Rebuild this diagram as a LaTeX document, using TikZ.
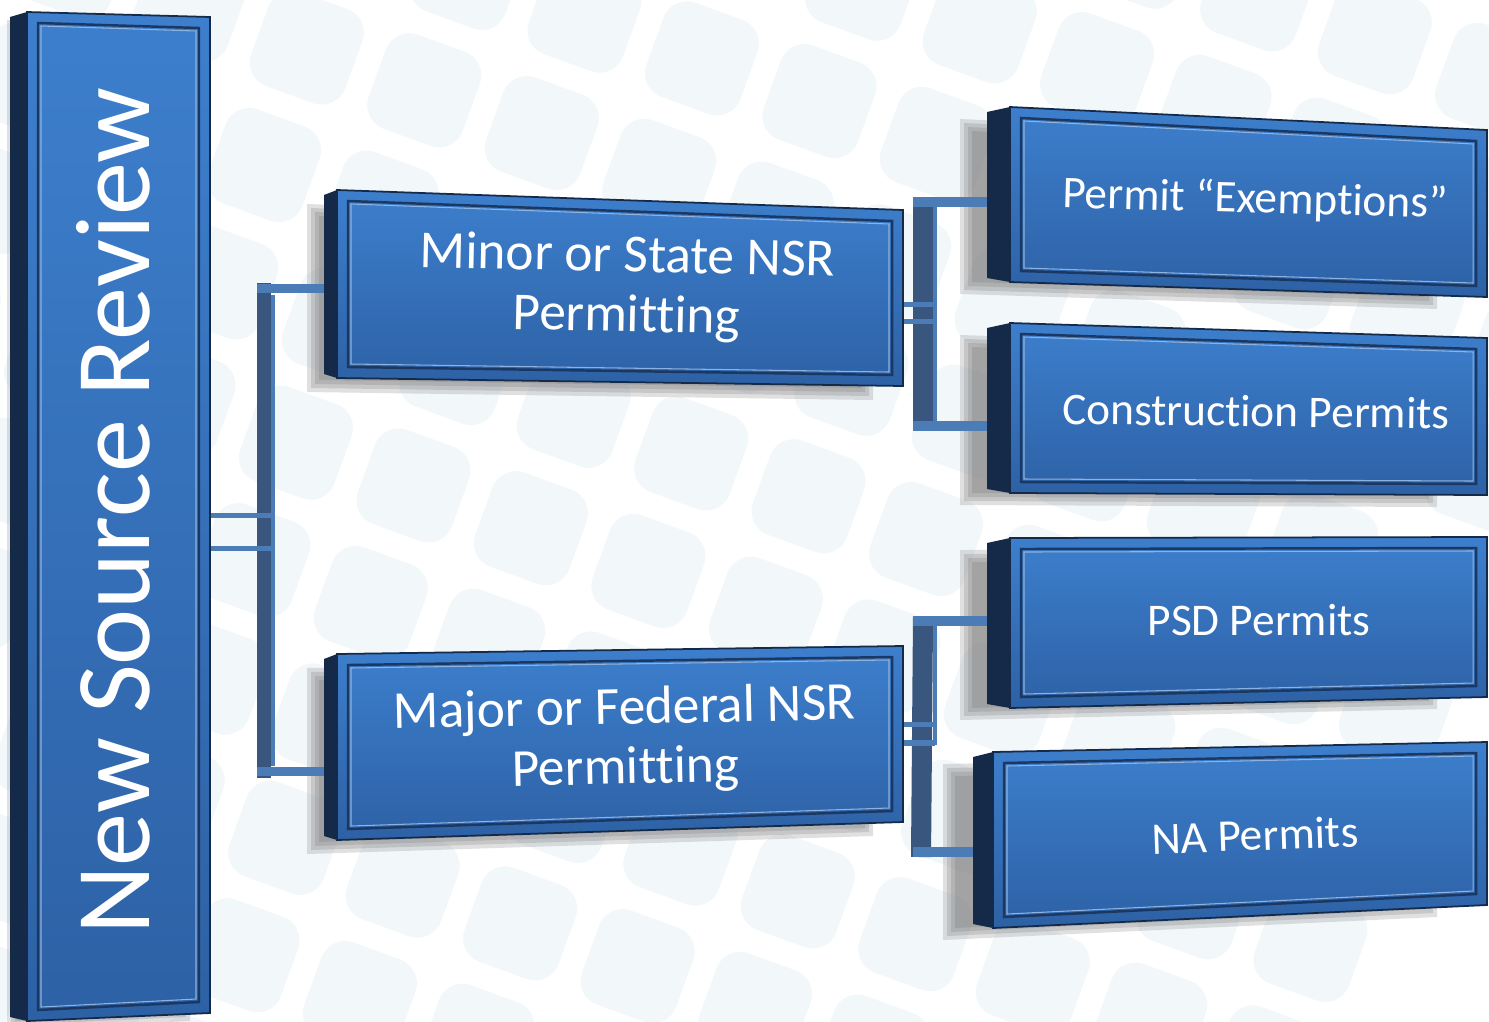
\documentclass[tikz,border=0pt]{standalone}
\usepackage{fontspec}
\setmainfont{Carlito}[Ligatures={TeX,CommonOff}, RawFeature={-liga;-clig;-dlig}]
\usetikzlibrary{calc, positioning}

\definecolor{faceTop}{RGB}{61,127,205}
\definecolor{faceBot}{RGB}{45,97,165}
\definecolor{sideNavy}{RGB}{21,42,72}
\definecolor{rimDark}{RGB}{27,56,98}
\definecolor{barLite}{RGB}{76,124,182}
\definecolor{barDark}{RGB}{57,86,126}
\definecolor{tileBlue}{RGB}{242,247,250}

% corners of one 3d panel
\newcommand{\setpanel}[5]{%
  \coordinate (#1-tl) at #2;
  \coordinate (#1-tr) at #3;
  \coordinate (#1-br) at #4;
  \coordinate (#1-bl) at #5;
}
\newcommand{\panelshadow}[3]{%
  \foreach \k in {0,4,8,12} {
    \fill[black!60, opacity=0.2]
      ($(#1-tl)+(#2+\k,#3+\k)$) -- ($(#1-tr)+(#2-\k,#3+\k)$) -- ($(#1-br)+(#2-\k,#3-\k)$) -- ($(#1-bl)+(#2+\k,#3-\k)$) -- cycle;
  }
}
\newcommand{\drawpanel}[2]{%
  \fill[sideNavy] ($(#1-tl)+(-#2,5)$) -- (#1-tl) -- (#1-bl) -- ($(#1-bl)+(-#2,-4)$) -- cycle;
  \shade[top color=faceTop, bottom color=faceBot] (#1-tl) -- (#1-tr) -- (#1-br) -- (#1-bl) -- cycle;
  \draw[sideNavy, line width=0.5pt] (#1-tl) -- (#1-tr) -- (#1-br) -- (#1-bl) -- cycle;
  \draw[rimDark, line width=0.7pt] ($(#1-tl)+(11,11)$) -- ($(#1-tr)+(-11,11)$) -- ($(#1-br)+(-11,-11)$) -- ($(#1-bl)+(11,-11)$) -- cycle;
  \draw[faceTop!60!white, line width=0.3pt] ($(#1-tl)+(14,14)$) -- ($(#1-tr)+(-14,14)$) -- ($(#1-br)+(-14,-14)$) -- ($(#1-bl)+(14,-14)$) -- cycle;
}

\begin{document}
\begin{tikzpicture}[x=0.01cm,y=-0.01cm,
  tile/.style={fill=tileBlue, rounded corners=0.25cm},
  trunkbar/.style={draw=barDark, line width=4pt},
  widebar/.style={draw=barDark, line width=5.7pt},
  edgebar/.style={draw=barLite, line width=1pt},
  armbar/.style={draw=barLite, line width=2.6pt},
  thinbar/.style={draw=barLite, line width=1.5pt},
  lvla/.style={text=white, font=\fontsize{30.2}{34}\selectfont},
  lvlb/.style={text=white, align=center, font=\fontsize{15.2}{17}\selectfont},
  lvlc/.style={text=white, font=\fontsize{12.9}{15}\selectfont}]

\useasboundingbox (0,0) rectangle (1489,1021);
\fill[white] (0,0) rectangle (1489,1021);

% background tiles
\begin{scope}
\clip (0,0) rectangle (1489,1021);
\begin{scope}[rotate around={-20:(744,510)}]
\foreach \i in {-4,...,13} {
  \foreach \j in {-4,...,11} {
    \fill[tile] (\i*125-250,\j*125-200) rectangle +(100,100);
  }
}
\end{scope}
\end{scope}

\setpanel{root}{(27,12)}{(210,17)}{(210,1013)}{(27,1021)}
\setpanel{minor}{(337,190)}{(903,210)}{(903,386)}{(337,378)}
\setpanel{major}{(337,654)}{(903,646)}{(903,822)}{(337,840)}
\setpanel{exempt}{(1010,107)}{(1487,130)}{(1487,297)}{(1010,282)}
\setpanel{constr}{(1010,323)}{(1487,338)}{(1487,495)}{(1010,493)}
\setpanel{psd}{(1010,538)}{(1487,537)}{(1487,697)}{(1010,708)}
\setpanel{na}{(993,752)}{(1487,742)}{(1487,905)}{(993,928)}

\panelshadow{root}{-20}{8}
\panelshadow{minor}{-30}{14}
\panelshadow{major}{-30}{14}
\foreach \p in {exempt,constr,psd,na} {
  \panelshadow{\p}{-50}{12}
}

% connector ends
\coordinate (root-e1) at (210,515.5);
\coordinate (root-e2) at (210,548.5);
\coordinate (ltrunk-n) at (264,283);
\coordinate (ltrunk-s) at (264,778);
\coordinate (ltrunk-a) at (264,515.5);
\coordinate (ltrunk-b) at (264,548.5);
\coordinate (minor-w) at (337,288.5);
\coordinate (major-w) at (337,771.5);
\coordinate (minor-e1) at (903,304.5);
\coordinate (minor-e2) at (903,321.5);
\coordinate (major-e1) at (903,724.5);
\coordinate (major-e2) at (903,743);
\coordinate (utrunk-n) at (923,198);
\coordinate (utrunk-s) at (923,430);
\coordinate (dtrunk-n) at (923,617);
\coordinate (dtrunk-s) at (921,857);
\coordinate (exempt-w) at (1010,202);
\coordinate (constr-w) at (1010,426);
\coordinate (psd-w) at (1010,621);
\coordinate (na-w) at (993,852);

% left tree
\draw[trunkbar] (ltrunk-n) -- (ltrunk-s);
\draw[edgebar] ($(ltrunk-n)+(9,12)$) -- ($(ltrunk-s)+(9,-12)$);
\draw[armbar] ($(ltrunk-n)+(-7,5.5)$) -- (minor-w);
\draw[armbar] ($(ltrunk-s)+(-7,-6.5)$) -- (major-w);
\draw[thinbar] (root-e1) -- ($(ltrunk-a)+(7,0)$);
\draw[thinbar] (root-e2) -- ($(ltrunk-b)+(7,0)$);

% upper right tree
\draw[widebar] (utrunk-n) -- (utrunk-s);
\draw[edgebar] ($(utrunk-n)+(12,8)$) -- ($(utrunk-s)+(12,-8)$);
\draw[armbar] ($(utrunk-n)+(-10,4)$) -- (exempt-w);
\draw[armbar] ($(utrunk-s)+(-10,-4)$) -- (constr-w);
\draw[thinbar] (minor-e1) -- ($(minor-e1 -| utrunk-n)+(12,0)$);
\draw[thinbar] (minor-e2) -- ($(minor-e2 -| utrunk-n)+(12,0)$);

% lower right tree
\draw[widebar] (dtrunk-n) -- (dtrunk-s);
\draw[edgebar] ($(dtrunk-n)+(12,8)$) -- ($(dtrunk-n)+(12,128)$);
\draw[armbar] ($(dtrunk-n)+(-10,4)$) -- (psd-w);
\draw[armbar] ($(dtrunk-s)+(-8,-5)$) -- (na-w);
\draw[thinbar] (major-e1) -- ($(major-e1 -| dtrunk-n)+(12,0)$);
\draw[thinbar] (major-e2) -- ($(major-e2 -| dtrunk-n)+(12,0)$);

\drawpanel{root}{17}
\drawpanel{minor}{13}
\drawpanel{major}{13}
\drawpanel{exempt}{23}
\drawpanel{constr}{23}
\drawpanel{psd}{23}
\drawpanel{na}{20}

\node[lvla, rotate=90] (rootlbl) at (113,511) {New Source Review};
\node[lvlb, rotate=-1.2] (minorlbl) at (627,288) {Minor or State NSR\\Permitting};
\node[lvlb, rotate=1.2] (majorlbl) at (625,740) {Major or Federal NSR\\Permitting};
\node[lvlc, rotate=-1.5] (exemptlbl) at (1255,200) {Permit “Exemptions”};
\node[lvlc, rotate=-0.6] (constrlbl) at (1256,411) {Construction Permits};
\node[lvlc] (psdlbl) at (1259,620) {PSD Permits};
\node[lvlc, rotate=2] (nalbl) at (1255,835) {NA Permits};
\end{tikzpicture}
\end{document}
